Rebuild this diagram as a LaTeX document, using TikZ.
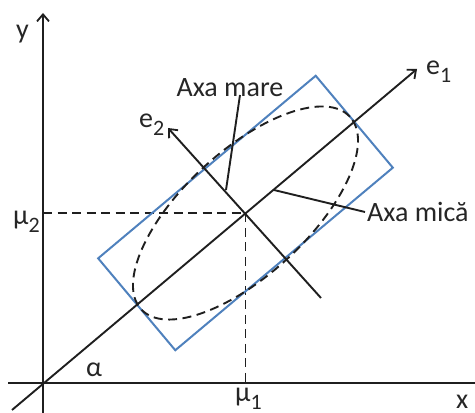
\documentclass[tikz,border=0pt]{standalone}
\usepackage{fontspec}
\setmainfont{Carlito}
\usetikzlibrary{arrows.meta}
\definecolor{boxblue}{RGB}{79,129,189}
\newcommand\mysub[1]{\raisebox{-8pt}{\fontsize{22}{22}\selectfont #1}}
\begin{document}
\begin{tikzpicture}[x=1pt,y=1pt,
  axis/.style={line width=2.1pt, black!88},
  thin/.style={line width=1.9pt, black!88},
  arr/.style={-{Straight Barb[length=7pt,width=12pt,line width=1.8pt]}},
  dsh/.style={line width=1.9pt, black!88, dash pattern=on 9pt off 5.5pt},
  lbl/.style={inner sep=0pt, anchor=base west, font=\fontsize{28}{32}\selectfont, text=black!85}]
\useasboundingbox (0,0) rectangle (475,413);
% coordinates
\coordinate (O) at (43,30);
\coordinate (C) at (245.5,200);
\coordinate (ytop) at (43,400);
\coordinate (ybot) at (43,0);
\coordinate (xl) at (8,30);
\coordinate (xr) at (475,30);
\coordinate (e1tail) at (12,3);
\coordinate (e1tip) at (417,344);
\coordinate (e2tip) at (168,285);
\coordinate (e2end) at (321,115);
\coordinate (mu2) at (43,200);
\coordinate (mu1) at (245.5,30);
\coordinate (amP) at (226,223);
\coordinate (amT) at (240,318);
\coordinate (aiP) at (274,223);
\coordinate (aiT) at (365,201);
% axes
\draw[axis, arr] (ybot) -- (ytop);
\draw[axis] (xl) -- (xr);
% dashed projections
\draw[dsh] (mu2) -- (C) -- (mu1);
% blue rectangle
\draw[boxblue, line width=2pt, rotate around={40:(C)}]
  ([shift={(-142,-60)}]C) rectangle ([shift={(142,60)}]C);
% ellipse
\draw[dsh, rotate around={42.7:(C)}] (C) ellipse [x radius=142, y radius=62];
% principal axes
\draw[thin, arr] (e1tail) -- (e1tip);
\draw[thin, arr] (e2end) -- (e2tip);
% pointers
\draw[thin] (amP) -- (amT);
\draw[thin] (aiP) -- (aiT);
% labels
\node[lbl] (ly) at (16,374) {y};
\node[lbl] (lx) at (456,4) {x};
\node[lbl] (le1) at (426,338) {e\mysub{1}};
\node[lbl] (le2) at (139,285) {e\mysub{2}};
\node[lbl] (lmu2) at (13,188) {μ\mysub{2}};
\node[lbl] (lmu1) at (235,11) {μ\mysub{1}};
\node[lbl] (lal) at (86,36) {α};
\node[lbl, anchor=base] (lam) at (230,316) {Axa mare};
\node[lbl] (lai) at (367,191) {Axa mică};
\end{tikzpicture}
\end{document}
